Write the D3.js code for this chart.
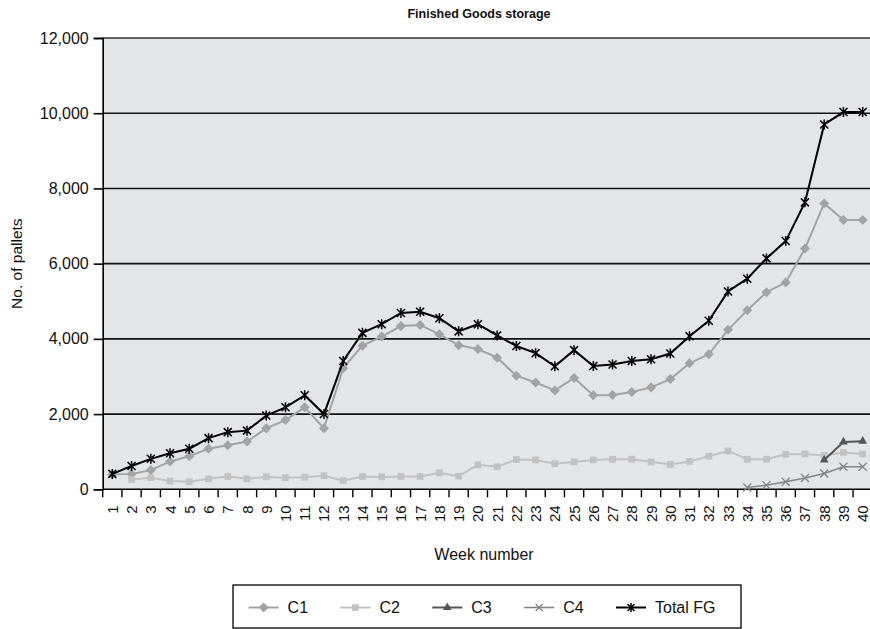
<!DOCTYPE html>
<html>
<head>
<meta charset="utf-8">
<script src="https://cdn.jsdelivr.net/npm/d3@7"></script>
<style>
  html, body { margin: 0; padding: 0; background: #fff; }
  svg { display: block; font-family: "Liberation Sans", Arial, sans-serif; }
</style>
</head>
<body>
<svg id="chart" width="870" height="629"></svg>
<script>
const weeks = d3.range(1, 41).map(String);
const yTicks = [0, 2000, 4000, 6000, 8000, 10000, 12000];

const c1 = [400, 410, 510, 740, 880, 1080, 1170, 1270, 1620, 1840,
            2180, 1620, 3220, 3820, 4060, 4340, 4370, 4120, 3830, 3730,
            3500, 3020, 2840, 2630, 2960, 2500, 2510, 2590, 2710, 2930,
            3350, 3590, 4240, 4760, 5240, 5500, 6400, 7600, 7160, 7160];
const c2 = [null, 260, 310, 220, 200, 280, 340, 280, 330, 310,
            320, 360, 230, 340, 330, 340, 340, 440, 350, 650,
            600, 790, 780, 680, 730, 780, 800, 800, 730, 660,
            740, 880, 1020, 800, 800, 930, 940, 900, 980, 940];
const c3 = [null, null, null, null, null, null, null, null, null, null,
            null, null, null, null, null, null, null, null, null, null,
            null, null, null, null, null, null, null, null, null, null,
            null, null, null, null, null, null, null, 780, 1260, 1280];
const c4 = [null, null, null, null, null, null, null, null, null, null,
            null, null, null, null, null, null, null, null, null, null,
            null, null, null, null, null, null, null, null, null, null,
            null, null, null, 50, 110, 200, 300, 420, 600, 600];
const totalFG = [410, 620, 810, 960, 1080, 1360, 1520, 1560, 1960, 2180,
                 2500, 2000, 3410, 4160, 4390, 4690, 4720, 4550, 4200, 4390,
                 4090, 3810, 3620, 3270, 3700, 3280, 3320, 3410, 3460, 3610,
                 4070, 4480, 5260, 5600, 6140, 6600, 7630, 9700, 10030, 10030];

const seriesNames = ["C1", "C2", "C3", "C4", "Total FG"];

const series = [
  { name: seriesNames[0], values: c1, color: "#a3a3a3", marker: "diamond", width: 2 },
  { name: seriesNames[1], values: c2, color: "#c2c2c2", marker: "square", width: 2 },
  { name: seriesNames[2], values: c3, color: "#555555", marker: "triangle", width: 2 },
  { name: seriesNames[3], values: c4, color: "#858585", marker: "x", width: 1.6 },
  { name: seriesNames[4], values: totalFG, color: "#000000", marker: "star", width: 2 }
];

const svg = d3.select("#chart");
const pLeft = 102.7, pRight = 872.3, pTop = 38, pBottom = 489.3;

const x = d3.scaleBand().domain(weeks).range([pLeft, pRight]);
const y = d3.scaleLinear().domain([0, 12000]).range([pBottom, pTop]);

// plot background
svg.append("rect")
  .attr("x", pLeft).attr("y", pTop)
  .attr("width", pRight - pLeft).attr("height", pBottom - pTop)
  .attr("fill", "#e4e5e7");

// gridlines
svg.append("g")
  .selectAll("line")
  .data(yTicks.filter(d => d > 0))
  .join("line")
  .attr("x1", pLeft).attr("x2", pRight)
  .attr("y1", d => y(d)).attr("y2", d => y(d))
  .attr("stroke", d => d === 12000 ? "#333" : "#111")
  .attr("stroke-width", 1.6);

// y axis
const yAxis = d3.axisLeft(y).tickValues(yTicks)
  .tickFormat(d3.format(",")).tickSize(9).tickPadding(5);
const gy = svg.append("g").attr("transform", `translate(${pLeft},0)`).call(yAxis);
gy.select(".domain").attr("stroke", "#000").attr("stroke-width", 1.6);
gy.selectAll(".tick line").attr("stroke", "#000").attr("stroke-width", 1.6);
gy.selectAll(".tick text").attr("font-size", 16).attr("fill", "#111")
  .attr("font-family", "Liberation Sans, Arial, sans-serif");

// x axis: ticks between categories
const xAxisG = svg.append("g");
xAxisG.append("line")
  .attr("x1", pLeft).attr("x2", pRight)
  .attr("y1", pBottom).attr("y2", pBottom)
  .attr("stroke", "#000").attr("stroke-width", 1.6);
xAxisG.selectAll("line.tk")
  .data(weeks)
  .join("line").attr("class", "tk")
  .attr("x1", d => x(d)).attr("x2", d => x(d))
  .attr("y1", pBottom).attr("y2", pBottom + 8)
  .attr("stroke", "#000").attr("stroke-width", 1.4);
xAxisG.selectAll("text")
  .data(weeks)
  .join("text")
  .attr("transform", d => `translate(${x(d) + x.bandwidth() / 2 + 5.5},${pBottom + 16}) rotate(-90)`)
  .attr("text-anchor", "end")
  .attr("font-size", 15)
  .attr("fill", "#111")
  .text(d => d);

// lines & markers
const line = d3.line()
  .defined(d => d.v != null)
  .x(d => x(d.w) + x.bandwidth() / 2)
  .y(d => y(d.v));

const markerPath = {
  diamond: d3.symbol(d3.symbolDiamond2, 64)(),
  square: d3.symbol(d3.symbolSquare2, 58)(),
  triangle: d3.symbol(d3.symbolTriangle2, 55)(),
};

series.forEach(s => {
  const pts = s.values.map((v, i) => ({ w: weeks[i], v }));
  svg.append("path")
    .datum(pts)
    .attr("fill", "none")
    .attr("stroke", s.color)
    .attr("stroke-width", s.width)
    .attr("d", line);
  const g = svg.append("g");
  const valid = pts.filter(d => d.v != null);
  const m = g.selectAll("path").data(valid).join("path")
    .attr("transform", d => `translate(${x(d.w) + x.bandwidth() / 2},${y(d.v)})`);
  if (s.marker === "x") {
    m.attr("d", "M-4,-4L4,4M-4,4L4,-4").attr("stroke", s.color).attr("stroke-width", 1.3).attr("fill", "none");
  } else if (s.marker === "star") {
    m.attr("d", "M-4,-4L4,4M-4,4L4,-4M0,-5L0,5").attr("stroke", s.color).attr("stroke-width", 1.5).attr("fill", "none");
  } else {
    m.attr("d", markerPath[s.marker]).attr("fill", s.color);
  }
});

// title
svg.append("text")
  .attr("x", 479).attr("y", 18)
  .attr("text-anchor", "middle")
  .attr("font-size", 12.5).attr("font-weight", "bold")
  .attr("fill", "#111")
  .text("Finished Goods storage");

// axis titles
svg.append("text")
  .attr("transform", `translate(22,${(pTop + pBottom) / 2}) rotate(-90)`)
  .attr("text-anchor", "middle")
  .attr("font-size", 15.5).attr("fill", "#111")
  .text("No. of pallets");

svg.append("text")
  .attr("x", 484).attr("y", 560)
  .attr("text-anchor", "middle")
  .attr("font-size", 16).attr("fill", "#111")
  .text("Week number");

// legend
const lg = svg.append("g");
lg.append("rect")
  .attr("x", 233).attr("y", 585).attr("width", 508).attr("height", 43)
  .attr("fill", "#fff").attr("stroke", "#000").attr("stroke-width", 1.3);
const itemX = d3.scalePoint().domain(seriesNames).range([248.6, 616]);
series.forEach(s => {
  const lx = itemX(s.name), ly = 607.5;
  lg.append("line")
    .attr("x1", lx).attr("x2", lx + 30).attr("y1", ly).attr("y2", ly)
    .attr("stroke", s.color).attr("stroke-width", s.width);
  const mk = lg.append("path").attr("transform", `translate(${lx + 15},${ly})`);
  if (s.marker === "x") {
    mk.attr("d", "M-3.5,-3.5L3.5,3.5M-3.5,3.5L3.5,-3.5").attr("stroke", s.color).attr("stroke-width", 1.3).attr("fill", "none");
  } else if (s.marker === "star") {
    mk.attr("d", "M-3.5,-3.5L3.5,3.5M-3.5,3.5L3.5,-3.5M0,-4.5L0,4.5").attr("stroke", s.color).attr("stroke-width", 1.5).attr("fill", "none");
  } else {
    mk.attr("d", markerPath[s.marker]).attr("fill", s.color);
  }
  lg.append("text")
    .attr("x", lx + 39).attr("y", ly + 5.5)
    .attr("font-size", 16).attr("fill", "#111")
    .text(s.name);
});
</script>
</body>
</html>
